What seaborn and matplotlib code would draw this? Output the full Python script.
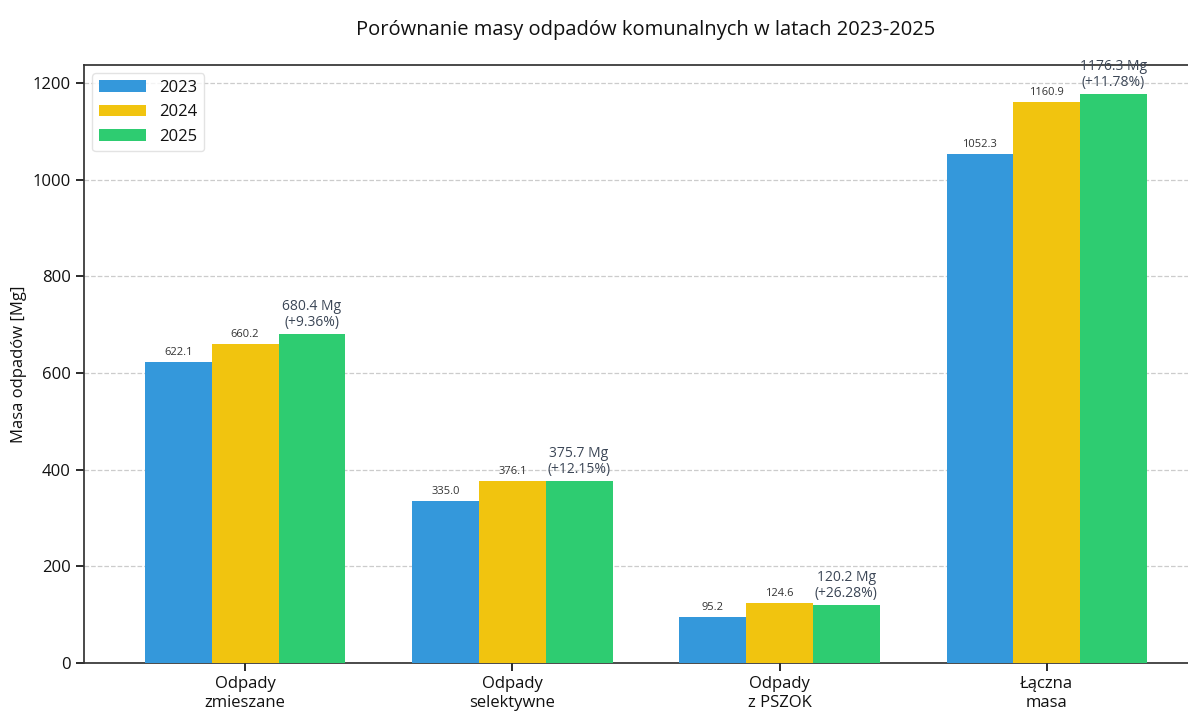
import pandas as pd
import matplotlib.pyplot as plt
import seaborn as sns

# data
categories = ["Odpady\nzmieszane", "Odpady\nselektywne", "Odpady\nz PSZOK", "Łączna\nmasa"]
years = ["2023", "2024", "2025"]
v2023 = [622.1, 335.0, 95.2, 1052.3]
v2024 = [660.2, 376.1, 124.6, 1160.9]
v2025 = [680.4, 375.7, 120.2, 1176.3]
pct_2025 = ["+9.36%", "+12.15%", "+26.28%", "+11.78%"]

colors = ["#3498db", "#f1c40f", "#2ecc71"]

rows = []
for yr, vals in zip(years, [v2023, v2024, v2025]):
    for cat, v in zip(categories, vals):
        rows.append({"Kategoria": cat, "Rok": yr, "Masa": v})
df = pd.DataFrame(rows)

sns.set_theme(style="ticks")
plt.rcParams['font.family'] = ['Open Sans', 'DejaVu Sans']
plt.rcParams['text.color'] = '#111111'
plt.rcParams['axes.labelcolor'] = '#111111'
plt.rcParams['xtick.color'] = '#111111'
plt.rcParams['ytick.color'] = '#111111'

fig = plt.figure(figsize=(11.88, 7.11), dpi=100)
ax = fig.add_axes([0.0707, 0.0675, 0.946, 0.841])

sns.barplot(data=df, x="Kategoria", y="Masa", hue="Rok", palette=colors,
            width=0.75, saturation=1, linewidth=0, ax=ax, zorder=3)

ax.set_xlim(-0.603, 3.603)
ax.set_ylim(0, 1237)
ax.yaxis.grid(True, linestyle="--", color="#cccccc", linewidth=0.9, zorder=0)
ax.set_axisbelow(True)

# value labels
for i, cont in enumerate(ax.containers):
    for j, bar in enumerate(cont):
        h = bar.get_height()
        x = bar.get_x() + bar.get_width() / 2
        if i < 2:
            ax.annotate(f"{h:.1f}", (x, h), xytext=(0, 3), textcoords="offset points",
                        ha="center", va="bottom", fontsize=8, color="#333333")
        else:
            ax.annotate(f"{h:.1f} Mg\n({pct_2025[j]})", (x, h), xytext=(0, 3),
                        textcoords="offset points", ha="center", va="bottom",
                        fontsize=10, color="#3b4656", linespacing=1.1)

ax.set_title("Porównanie masy odpadów komunalnych w latach 2023-2025",
             fontsize=14.5, pad=22)
ax.set_xlabel("")
ax.set_ylabel("Masa odpadów [Mg]", fontsize=12)
ax.tick_params(axis="both", labelsize=12)
for s in ax.spines.values():
    s.set_color("#333333")

leg = ax.legend(loc="upper left", fontsize=12, frameon=True, handlelength=2.8)
leg.get_frame().set_edgecolor("#dddddd")

fig.savefig("out.png", dpi=100)
